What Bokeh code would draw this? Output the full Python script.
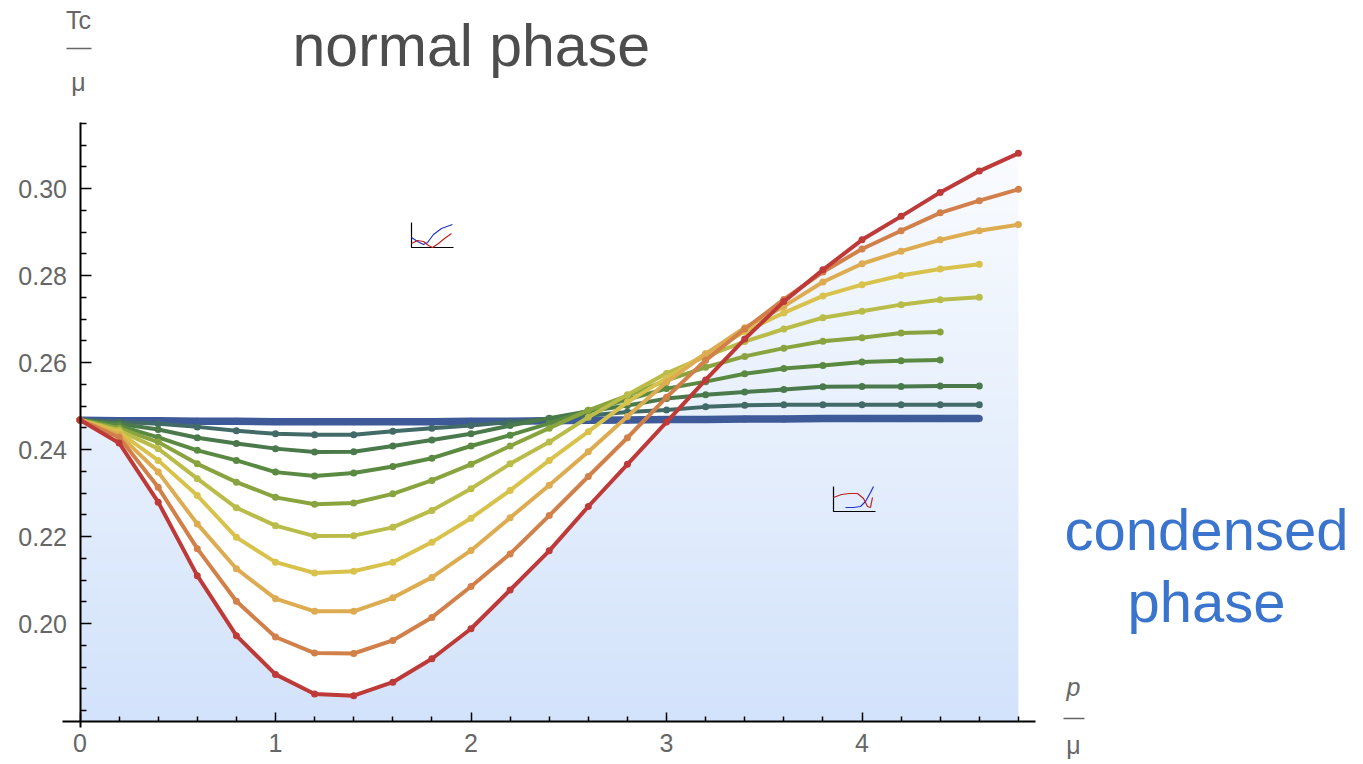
import numpy as np
from bokeh.plotting import figure
from bokeh.models import LinearAxis, FixedTicker, PrintfTickFormatter, Label, Range1d
from bokeh.embed import file_html
from bokeh.resources import INLINE

# ---------------- data ----------------
p_over_mu = [0.0, 0.2, 0.4, 0.6, 0.8, 1.0, 1.2, 1.4, 1.6, 1.8, 2.0, 2.2, 2.4,
             2.6, 2.8, 3.0, 3.2, 3.4, 3.6, 3.8, 4.0, 4.2, 4.4, 4.6, 4.8]

tc_blue = [0.2467, 0.2466, 0.2466, 0.2465, 0.2465, 0.2464, 0.2464, 0.2464, 0.2464, 0.2464, 0.2465, 0.2465,
           0.2466, 0.2467, 0.2468, 0.2469, 0.2469, 0.2470, 0.2470, 0.2471, 0.2471, 0.2471, 0.2471, 0.2471]
tc_teal = [0.2468, 0.2464, 0.2459, 0.2452, 0.2443, 0.2436, 0.2434, 0.2434, 0.2442, 0.2449, 0.2455, 0.2463,
           0.2471, 0.2478, 0.2486, 0.2491, 0.2498, 0.2502, 0.2503, 0.2503, 0.2503, 0.2503, 0.2503, 0.2503]
tc_dkgreen = [0.2468, 0.2459, 0.2446, 0.2427, 0.2414, 0.2402, 0.2394, 0.2395, 0.2408, 0.2422, 0.2436, 0.2455,
              0.2472, 0.2488, 0.2501, 0.2517, 0.2526, 0.2532, 0.2538, 0.2544, 0.2545, 0.2545, 0.2546, 0.2546]
tc_green = [0.2468, 0.2455, 0.2428, 0.2398, 0.2375, 0.2348, 0.2339, 0.2346, 0.2361, 0.2380, 0.2408, 0.2433,
            0.2460, 0.2490, 0.2515, 0.2540, 0.2556, 0.2574, 0.2586, 0.2593, 0.2601, 0.2604, 0.2606]
tc_olive = [0.2468, 0.2449, 0.2417, 0.2367, 0.2325, 0.2290, 0.2274, 0.2277, 0.2298, 0.2329, 0.2366, 0.2408,
            0.2449, 0.2490, 0.2524, 0.2559, 0.2589, 0.2614, 0.2633, 0.2649, 0.2657, 0.2668, 0.2670]
tc_ygreen = [0.2468, 0.2444, 0.2402, 0.2333, 0.2266, 0.2225, 0.2201, 0.2202, 0.2221, 0.2260, 0.2310, 0.2367,
             0.2417, 0.2474, 0.2526, 0.2575, 0.2614, 0.2648, 0.2677, 0.2703, 0.2718, 0.2733, 0.2744, 0.2750]
tc_yellow = [0.2468, 0.2440, 0.2375, 0.2294, 0.2198, 0.2141, 0.2116, 0.2120, 0.2141, 0.2187, 0.2242, 0.2306,
             0.2375, 0.2441, 0.2509, 0.2564, 0.2620, 0.2671, 0.2714, 0.2753, 0.2779, 0.2800, 0.2815, 0.2826]
tc_lorange = [0.2468, 0.2434, 0.2348, 0.2229, 0.2126, 0.2057, 0.2028, 0.2028, 0.2059, 0.2106, 0.2168, 0.2243,
              0.2318, 0.2395, 0.2476, 0.2555, 0.2620, 0.2680, 0.2729, 0.2785, 0.2827, 0.2856, 0.2882, 0.2903, 0.2917]
tc_orange = [0.2468, 0.2428, 0.2313, 0.2172, 0.2051, 0.1969, 0.1932, 0.1931, 0.1961, 0.2014, 0.2085, 0.2160,
             0.2248, 0.2338, 0.2427, 0.2520, 0.2605, 0.2677, 0.2745, 0.2808, 0.2861, 0.2903, 0.2944, 0.2972, 0.2998]
tc_red = [0.2468, 0.2415, 0.2279, 0.2110, 0.1972, 0.1883, 0.1838, 0.1834, 0.1865, 0.1919, 0.1988, 0.2077,
          0.2167, 0.2269, 0.2366, 0.2463, 0.2560, 0.2654, 0.2740, 0.2813, 0.2882, 0.2936, 0.2991, 0.3040, 0.3081]

series = [tc_blue, tc_teal, tc_dkgreen, tc_green, tc_olive, tc_ygreen, tc_yellow, tc_lorange, tc_orange, tc_red]
colors = ["#3E5A98", "#426B68", "#4A7A4B", "#5A8A42", "#89A43F", "#B9BC48", "#D8C24C", "#DEAC50", "#D2804A", "#BE3A38"]
widths = [7.5, 4, 4, 4, 4, 4, 4, 4, 4, 4]

y_major = [0.20, 0.22, 0.24, 0.26, 0.28, 0.30]
y_minor = [0.180, 0.185, 0.190, 0.195, 0.205, 0.210, 0.215, 0.225, 0.230, 0.235, 0.245, 0.250, 0.255,
           0.265, 0.270, 0.275, 0.285, 0.290, 0.295, 0.305, 0.310, 0.315]
x_major = [0, 1, 2, 3, 4]
x_minor = [0.2, 0.4, 0.6, 0.8, 1.2, 1.4, 1.6, 1.8, 2.2, 2.4, 2.6, 2.8, 3.2, 3.4, 3.6, 3.8, 4.2, 4.4, 4.6, 4.8]

# tiny inset thumbnails (pixel offsets inside a ~42x26 icon)
icon1_blue = ([0, 6, 12, 16, 22, 30, 41], [15, 19, 22, 20, 12, 6, 2])
icon1_red = ([0, 6, 12, 17, 21, 27, 33, 40], [21, 18, 19, 23, 25, 21, 16, 11])
icon2_blue = ([12, 20, 27, 32, 37, 40], [21, 21, 20, 15, 6, 0])
icon2_red = ([0, 8, 16, 24, 30, 34, 37, 39], [11, 8, 7, 7, 12, 20, 21, 11])

# ---------------- layout mapping (pixels of the 1363x764 canvas) ----------------
W, H = 1363, 764
X_ORIG, X_SCALE = 79.5, 195.5      # px of x=0, px per unit
Y_REF, Y_REF_PX, Y_SCALE = 0.30, 188.0, 4350.0


def dx(px):
    return (np.asarray(px, dtype=float) - X_ORIG) / X_SCALE


def dy(py):
    return Y_REF - (np.asarray(py, dtype=float) - Y_REF_PX) / Y_SCALE


x_axis_y = 0.1775
y_top = float(dy(122))

p = figure(width=W, height=H, output_backend="svg", toolbar_location=None,
           x_range=Range1d(float(dx(0)), float(dx(W))), y_range=Range1d(float(dy(H)), float(dy(0))),
           x_axis_location=None, y_axis_location=None, min_border=0)
p.xgrid.visible = False
p.ygrid.visible = False
p.outline_line_color = None
p.background_fill_color = "white"
p.border_fill_color = "white"

# gradient fill below the red curve
xs = np.array(p_over_mu)
n_bands = 120
edges = np.linspace(x_axis_y, y_top, n_bands + 1)
c_bot = np.array([211, 227, 251])
c_top = np.array([252, 253, 255])
for i in range(n_bands):
    t = i / (n_bands - 1)
    c = (c_bot + (c_top - c_bot) * t).astype(int)
    p.varea(x=[0, 4.8], y1=[edges[i]] * 2, y2=[edges[i + 1] + 0.0002] * 2,
            fill_color="#%02x%02x%02x" % tuple(c), fill_alpha=1.0)
p.varea(x=xs, y1=tc_red, y2=[float(dy(0))] * len(xs), fill_color="white")

# curves
for ys, col, w in zip(series, colors, widths):
    xx = p_over_mu[:len(ys)]
    p.line(xx, ys, line_color=col, line_width=w, line_join="round")
    p.scatter(xx, ys, size=7, fill_color=col, line_color=None)

# inset thumbnails
def icon(ox, oy, blue, red):
    p.line(dx([ox, ox, ox + 42]), dy([oy, oy + 25, oy + 25]), line_color="black", line_width=1.2)
    p.line(dx(ox + np.array(blue[0])), dy(oy + np.array(blue[1])), line_color="#2233CC", line_width=1.2)
    p.line(dx(ox + np.array(red[0])), dy(oy + np.array(red[1])), line_color="#C02020", line_width=1.2)

icon(411, 222, icon1_blue, icon1_red)
icon(833, 486, icon2_blue, icon2_red)

# axes
xax = LinearAxis(fixed_location=x_axis_y, bounds=(float(dx(62)), float(dx(1035))),
                 ticker=FixedTicker(ticks=x_major, minor_ticks=x_minor))
yax = LinearAxis(fixed_location=0, bounds=(float(dy(727)), float(dy(122))),
                 ticker=FixedTicker(ticks=y_major, minor_ticks=y_minor),
                 formatter=PrintfTickFormatter(format="%.2f"))
for ax in (xax, yax):
    ax.axis_line_color = "black"
    ax.axis_line_width = 2
    ax.major_tick_line_color = "black"
    ax.major_tick_line_width = 1.5
    ax.minor_tick_line_color = "black"
    ax.minor_tick_line_width = 1.5
    ax.major_tick_out = 0
    ax.minor_tick_out = 0
    ax.major_label_text_font = "Liberation Sans"
    ax.major_label_text_font_size = "25px"
    ax.major_label_text_color = "#666666"
xax.major_tick_in = 9
xax.minor_tick_in = 5
xax.major_label_standoff = 13
yax.major_tick_in = 11
yax.minor_tick_in = 6
yax.major_label_standoff = 13
p.add_layout(xax, "below")
p.add_layout(yax, "left")

# texts
GRAY = "#666666"
def lab(text, px, py, size, color, align="center", style="normal"):
    p.add_layout(Label(x=float(dx(px)), y=float(dy(py)), text=text, text_font="Liberation Sans",
                       text_font_size=size, text_color=color, text_align=align,
                       text_baseline="alphabetic", text_font_style=style))

lab("normal phase", 292, 45, "59px", "#4D4D4D", align="left")
lab("condensed", 1206, 529, "58px", "#3A74CC")
lab("phase", 1206, 601, "58px", "#3A74CC")
lab("Tc", 78, 19, "25px", GRAY)
lab("\u03bc", 78, 81, "25px", GRAY)
lab("p", 1073, 686, "25px", GRAY, style="italic")
lab("\u03bc", 1073, 744, "25px", GRAY)
p.segment(x0=dx([66, 1063]), y0=dy([48, 718]), x1=dx([91, 1084]), y1=dy([48, 718]),
          line_color=GRAY, line_width=1.5)

open("out.html", "w").write(file_html(p, INLINE))
